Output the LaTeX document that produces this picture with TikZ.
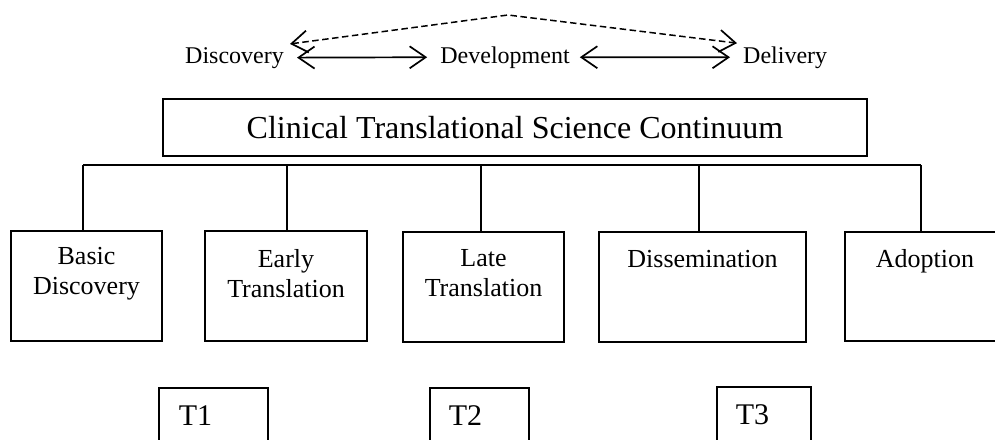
\documentclass[tikz,border=0pt]{standalone}
\usepackage{fontspec}
\setmainfont{Liberation Serif}
\usetikzlibrary{arrows.meta}
\begin{document}
\begin{tikzpicture}[x=1pt,y=-1pt,
  box/.style={draw, line width=1.8pt, inner sep=0pt},
  toptxt/.style={font=\fontsize{24}{28}\selectfont, inner xsep=6pt, inner ysep=3pt},
  boxtxt/.style={font=\fontsize{26}{30.5}\selectfont, align=center, inner sep=0pt},
  tbox/.style={draw, line width=1.8pt, anchor=north west, align=left, font=\fontsize{30}{36}\selectfont, inner ysep=18pt, text depth=40pt},
  barb/.tip={Straight Barb[length=16pt,width=22pt,line width=1.7pt]},
  arr/.style={barb-barb, line width=1.7pt},
  dsharr/.style={barb-barb, line width=1.5pt, dash pattern=on 6.5pt off 3.5pt},
  bus/.style={line width=1.8pt}]
\clip (0,0) rectangle (995,439);
\fill[white] (0,0) rectangle (995,439);

% top row
\node[toptxt, anchor=base west] (disc) at (179,63) {Discovery};
\node[toptxt, anchor=base] (dev) at (505,63) {Development};
\node[toptxt, anchor=base west] (deliv) at (737,63) {Delivery};
\coordinate (apex) at (508,15);
\draw[arr, shorten <=7pt, shorten >=7pt] (disc.east) -- (dev.west);
\draw[arr, shorten <=4pt, shorten >=7pt] (dev.east) -- (deliv.west);
\draw[dsharr] (disc.north east) -- (apex) -- (deliv.north west);

% title
\node[box, minimum width=704pt, minimum height=57pt, font=\fontsize{32}{38}\selectfont] (title) at (515,127.5) {Clinical Translational Science Continuum};

% bus
\coordinate (b1) at (83,165);
\coordinate (b2) at (287,165);
\coordinate (b3) at (481,165);
\coordinate (b4) at (699,165);
\coordinate (b5) at (921,165);
\draw[bus] (b1) -- (b5);

% boxes
\node[box, minimum width=151pt, minimum height=110pt] (bd) at (86.5,286) {};
\node[box, minimum width=162pt, minimum height=110pt] (et) at (286,286) {};
\node[box, minimum width=161pt, minimum height=110pt] (lt) at (483.5,287) {};
\node[box, minimum width=207pt, minimum height=110pt] (ds) at (702.5,287) {};
\node[box, minimum width=160pt, minimum height=109pt] (ad) at (925,286.5) {};

\draw[bus] (b1) -- (b1 |- bd.north);
\draw[bus] (b2) -- (b2 |- et.north);
\draw[bus] (b3) -- (b3 |- lt.north);
\draw[bus] (b4) -- (b4 |- ds.north);
\draw[bus] (b5) -- (b5 |- ad.north);

\node[boxtxt, anchor=north] (bdt) at (86.5,247) {Basic\\Discovery};
\node[boxtxt, anchor=north] (ett) at (286,249) {Early\\Translation};
\node[boxtxt, anchor=north] (ltt) at (483.5,249) {Late\\Translation};
\node[boxtxt, anchor=base] (dst) at (702.5,267) {Dissemination};
\node[boxtxt, anchor=base] (adt) at (925,267) {Adoption};

% T boxes
\node[tbox, text width=69pt, inner xsep=20pt] (t1) at (158,387) {T1};
\node[tbox, text width=61pt, inner xsep=19pt] (t2) at (429,387) {T2};
\node[tbox, text width=56pt, inner xsep=19pt] (t3) at (716,386) {T3};
\end{tikzpicture}
\end{document}
